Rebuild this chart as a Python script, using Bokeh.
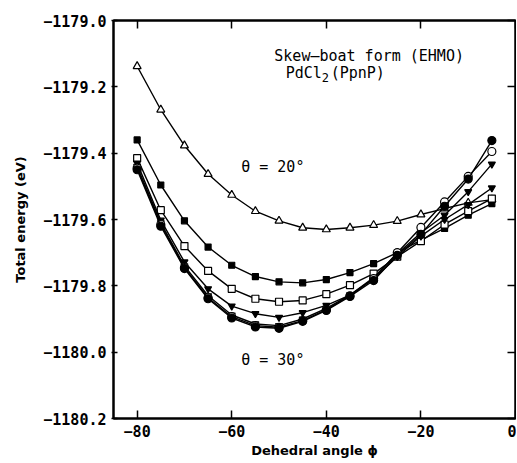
from bokeh.plotting import figure
from bokeh.models import (ColumnDataSource, FixedTicker, CustomJSTickFormatter,
                          LinearAxis, Label, Range1d)
from bokeh.embed import file_html
from bokeh.resources import INLINE

# ---- data -------------------------------------------------------------
phi = [-80, -75, -70, -65, -60, -55, -50, -45, -40, -35, -30, -25, -20, -15, -10, -5]

e_open_tri = [-1179.138, -1179.269, -1179.377, -1179.463, -1179.526, -1179.575, -1179.604, -1179.625,
              -1179.630, -1179.625, -1179.617, -1179.605, -1179.585, -1179.567, -1179.550, -1179.540]
e_fill_sq = [-1179.360, -1179.496, -1179.604, -1179.683, -1179.738, -1179.772, -1179.788, -1179.791,
             -1179.781, -1179.760, -1179.733, -1179.700, -1179.662, -1179.627, -1179.587, -1179.552]
e_open_sq = [-1179.415, -1179.572, -1179.680, -1179.755, -1179.809, -1179.839, -1179.848, -1179.844,
             -1179.825, -1179.798, -1179.763, -1179.712, -1179.665, -1179.615, -1179.575, -1179.537]
e_tri_a = [-1179.430, -1179.602, -1179.728, -1179.809, -1179.861, -1179.884, -1179.895, -1179.881,
           -1179.859, -1179.828, -1179.779, -1179.712, -1179.650, -1179.600, -1179.555, -1179.505]
e_tri_b = [-1179.440, -1179.610, -1179.740, -1179.830, -1179.888, -1179.915, -1179.920, -1179.900,
           -1179.868, -1179.828, -1179.775, -1179.703, -1179.640, -1179.587, -1179.516, -1179.433]
e_open_ci = [-1179.445, -1179.615, -1179.745, -1179.836, -1179.893, -1179.920, -1179.925, -1179.905,
             -1179.872, -1179.830, -1179.778, -1179.700, -1179.624, -1179.547, -1179.470, -1179.395]
e_fill_ci = [-1179.450, -1179.620, -1179.748, -1179.839, -1179.897, -1179.924, -1179.928, -1179.907,
             -1179.874, -1179.832, -1179.784, -1179.708, -1179.645, -1179.560, -1179.478, -1179.362]

x_ticks = [-80, -60, -40, -20, 0]
y_ticks = [-1180.2, -1180.0, -1179.8, -1179.6, -1179.4, -1179.2, -1179.0]

title_line1 = "Skew\u2013boat form (EHMO)"
title_line2a = "PdCl"
title_line2b = "2"
title_line2c = "(PpnP)"
theta_top = "\u03b8 = 20\u00b0"
theta_bottom = "\u03b8 = 30\u00b0"

# ---- figure -----------------------------------------------------------
TICK_FONT = "DejaVu Sans Mono"
p = figure(width=516, height=461, output_backend="svg", toolbar_location=None,
           x_range=Range1d(-85, 0), y_range=Range1d(-1180.2, -1179.0),
           min_border_left=113, min_border_right=1, min_border_top=20, min_border_bottom=43,
           x_axis_label="Dehedral angle \u03d5", y_axis_label="Total energy (eV)")
p.xgrid.visible = False
p.ygrid.visible = False
p.outline_line_color = "black"
p.outline_line_width = 2
p.background_fill_color = "white"
p.border_fill_color = "white"

xfmt = CustomJSTickFormatter(code="""
    return (tick < 0 ? "\\u2212" : "") + Math.abs(tick).toFixed(0);
""")
yfmt = CustomJSTickFormatter(code="""
    return (tick < 0 ? "\\u2212" : "") + Math.abs(tick).toFixed(1);
""")
blank = CustomJSTickFormatter(code='return "";')

for ax in p.xaxis:
    ax.ticker = FixedTicker(ticks=x_ticks)
    ax.formatter = xfmt
for ax in p.yaxis:
    ax.ticker = FixedTicker(ticks=y_ticks)
    ax.formatter = yfmt

for ax in list(p.xaxis) + list(p.yaxis):
    ax.axis_line_width = 2
    ax.axis_line_color = "black"
    ax.major_tick_line_width = 1.5
    ax.minor_tick_line_color = None
    ax.major_label_text_font = TICK_FONT
    ax.major_label_text_font_style = "bold"
    ax.major_label_text_font_size = "15px"
    ax.major_label_text_color = "black"
    ax.axis_label_text_font = "DejaVu Sans"
    ax.axis_label_text_font_style = "bold"
    ax.axis_label_text_font_size = "13px"
    ax.axis_label_text_color = "black"

p.xaxis.major_tick_in = 8
p.xaxis.major_tick_out = 0
p.xaxis.major_label_standoff = 6
p.xaxis.axis_label_standoff = 3
p.yaxis.major_tick_in = 4
p.yaxis.major_tick_out = 2
p.yaxis.major_label_standoff = 5
p.yaxis.axis_label_standoff = 12

top = LinearAxis(ticker=FixedTicker(ticks=x_ticks), formatter=blank,
                 major_tick_in=8, major_tick_out=0, major_label_standoff=0,
                 axis_line_width=2, major_tick_line_width=1.5, minor_tick_line_color=None)
right = LinearAxis(ticker=FixedTicker(ticks=y_ticks), formatter=blank,
                   major_tick_in=8, major_tick_out=0, major_label_standoff=0,
                   axis_line_width=2, major_tick_line_width=1.5, minor_tick_line_color=None)
p.add_layout(top, "above")
p.add_layout(right, "right")

series = [
    (e_open_tri, "triangle", "white", 8),
    (e_fill_sq, "square", "black", 6),
    (e_open_sq, "square", "white", 7),
    (e_tri_a, "inverted_triangle", "black", 7),
    (e_tri_b, "inverted_triangle", "black", 7),
    (e_open_ci, "circle", "white", 8),
    (e_fill_ci, "circle", "black", 8),
]
for vals, marker, fill, size in series:
    src = ColumnDataSource(dict(x=phi, y=vals))
    p.line("x", "y", source=src, line_color="black", line_width=1.4)
    p.scatter("x", "y", source=src, marker=marker, size=size, fill_color=fill,
              line_color="black", line_width=1.2)

ANN_FONT = "DejaVu Sans Mono"
def lab(x, y, text, size="15px", xo=0, yo=0):
    p.add_layout(Label(x=x, y=y, text=text, x_offset=xo, y_offset=yo,
                       text_font=ANN_FONT, text_font_size=size, text_color="black",
                       text_baseline="middle", text_align="left"))

lab(-51.0, -1179.106, title_line1)
lab(-48.6, -1179.157, title_line2a)
lab(-48.6, -1179.172, title_line2b, size="12px", xo=36)
lab(-48.6, -1179.157, title_line2c, xo=45)
lab(-58.0, -1179.441, theta_top)
lab(-58.0, -1180.024, theta_bottom)

open("out.html", "w").write(file_html(p, INLINE))
